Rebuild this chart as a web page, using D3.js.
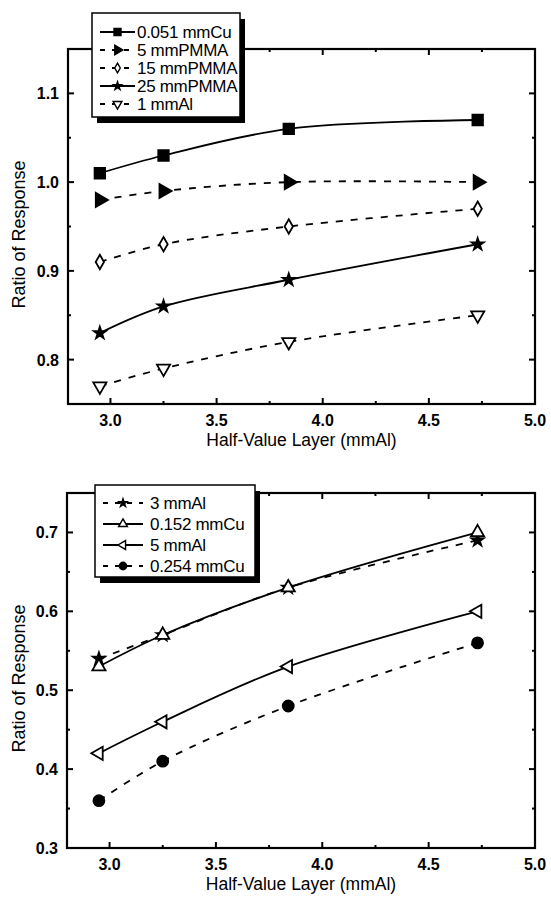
<!DOCTYPE html>
<html>
<head>
<meta charset="utf-8">
<script src="https://cdn.jsdelivr.net/npm/d3@7"></script>
<style>
  body { margin: 0; background: #fff; }
  svg { display: block; }
  text { font-family: "Liberation Sans", Arial, sans-serif; fill: #000; }
</style>
</head>
<body>
<div id="chart-container"></div>
<script>
// half-value layer (x) shared by both panels
const hvl = [2.95, 3.25, 3.84, 4.73];

// top panel series
const topNames = ["0.051 mmCu", "5 mmPMMA", "15 mmPMMA", "25 mmPMMA", "1 mmAl"];
const cu051 = [1.01, 1.03, 1.06, 1.07];
const pmma5 = [0.98, 0.99, 1.00, 1.00];
const pmma15 = [0.91, 0.93, 0.95, 0.97];
const pmma25 = [0.83, 0.86, 0.89, 0.93];
const al1 = [0.77, 0.79, 0.82, 0.85];

// bottom panel series
const botNames = ["3 mmAl", "0.152 mmCu", "5 mmAl", "0.254 mmCu"];
const al3 = [0.54, 0.57, 0.63, 0.69];
const cu152 = [0.53, 0.57, 0.63, 0.70];
const al5 = [0.42, 0.46, 0.53, 0.60];
const cu254 = [0.36, 0.41, 0.48, 0.56];

const xTicks = [3.0, 3.5, 4.0, 4.5, 5.0];
const topYTicks = [0.8, 0.9, 1.0, 1.1];
const botYTicks = [0.3, 0.4, 0.5, 0.6, 0.7];

const svg = d3.select("#chart-container")
  .append("svg")
    .attr("width", 551)
    .attr("height", 900);

function drawPanel(cfg) {
  const g = svg.append("g");
  const x = d3.scaleLinear().domain([2.8, 5.0]).range([cfg.left, cfg.right]);
  const y = d3.scaleLinear().domain(cfg.yDomain).range([cfg.bottom, cfg.top]);

  // frame
  g.append("rect")
    .attr("x", cfg.left).attr("y", cfg.top)
    .attr("width", cfg.right - cfg.left).attr("height", cfg.bottom - cfg.top)
    .attr("fill", "none").attr("stroke", "#000").attr("stroke-width", 2.2);

  // ticks pointing inward on all four sides
  const xMinor = d3.range(3.0, 5.01, 0.25);
  const yMinor = d3.range(cfg.yDomain[0], cfg.yDomain[1] + 0.001, 0.05).map(v => +v.toFixed(2));
  xMinor.forEach(v => {
    const len = xTicks.some(t => Math.abs(t - v) < 1e-6) ? 6 : 3;
    g.append("line").attr("x1", x(v)).attr("x2", x(v))
      .attr("y1", cfg.bottom).attr("y2", cfg.bottom - len).attr("stroke", "#000").attr("stroke-width", 2);
    g.append("line").attr("x1", x(v)).attr("x2", x(v))
      .attr("y1", cfg.top).attr("y2", cfg.top + len).attr("stroke", "#000").attr("stroke-width", 2);
  });
  yMinor.forEach(v => {
    const len = cfg.yTicks.some(t => Math.abs(t - v) < 1e-6) ? 6 : 3;
    g.append("line").attr("x1", cfg.left).attr("x2", cfg.left + len)
      .attr("y1", y(v)).attr("y2", y(v)).attr("stroke", "#000").attr("stroke-width", 2);
    g.append("line").attr("x1", cfg.right).attr("x2", cfg.right - len)
      .attr("y1", y(v)).attr("y2", y(v)).attr("stroke", "#000").attr("stroke-width", 2);
  });

  // tick labels
  g.selectAll(".xl").data(xTicks).join("text")
    .attr("x", d => x(d)).attr("y", cfg.bottom + 22)
    .attr("text-anchor", "middle").attr("font-size", 16).attr("font-weight", "bold")
    .text(d => d.toFixed(1));
  g.selectAll(".yl").data(cfg.yTicks).join("text")
    .attr("x", cfg.left - 9).attr("y", d => y(d) + 6)
    .attr("text-anchor", "end").attr("font-size", 16).attr("font-weight", "bold")
    .text(d => d.toFixed(1));

  // axis titles
  g.append("text")
    .attr("x", (cfg.left + cfg.right) / 2).attr("y", cfg.bottom + 42)
    .attr("text-anchor", "middle").attr("font-size", 17.5)
    .text("Half-Value Layer (mmAl)");
  g.append("text")
    .attr("transform", `translate(25,${(cfg.top + cfg.bottom) / 2 + 8}) rotate(-90)`)
    .attr("text-anchor", "middle").attr("font-size", 18)
    .text("Ratio of Response");

  // curves
  const line = d3.line()
    .x((d, i) => x(hvl[i]))
    .y(d => y(d))
    .curve(d3.curveCatmullRom.alpha(0.5));

  cfg.series.forEach(s => {
    g.append("path")
      .datum(s.values)
      .attr("fill", "none").attr("stroke", "#000").attr("stroke-width", 1.8)
      .attr("stroke-dasharray", s.dash ? "7,8" : null)
      .attr("d", line);
  });

  cfg.series.forEach(s => {
    g.selectAll(null).data(s.values).join("path")
      .attr("transform", (d, i) => `translate(${x(hvl[i])},${y(d)}) rotate(${s.rot || 0})`)
      .attr("d", d3.symbol().type(s.sym).size(s.size || 75))
      .attr("fill", s.filled ? "#000" : "#fff")
      .attr("stroke", "#000").attr("stroke-width", 1.8);
  });

  // legend with drop shadow
  const L = cfg.legend;
  g.append("rect").attr("x", L.x + 5).attr("y", L.y + 6).attr("width", L.w).attr("height", L.h).attr("fill", "#000");
  g.append("rect").attr("x", L.x).attr("y", L.y).attr("width", L.w).attr("height", L.h)
    .attr("fill", "#fff").attr("stroke", "#000").attr("stroke-width", 1.5);
  cfg.series.forEach((s, i) => {
    const ly = L.y + L.first + i * L.step;
    g.append("line").attr("x1", L.lineX[0]).attr("x2", L.lineX[1]).attr("y1", ly).attr("y2", ly)
      .attr("stroke", "#000").attr("stroke-width", 2.2)
      .attr("stroke-dasharray", s.dash ? "5,7" : null);
    g.append("path")
      .attr("transform", `translate(${(L.lineX[0] + L.lineX[1]) / 2},${ly}) rotate(${s.rot || 0})`)
      .attr("d", d3.symbol().type(s.sym).size((s.size || 75) * 0.45))
      .attr("fill", s.filled ? "#000" : "#fff")
      .attr("stroke", "#000").attr("stroke-width", 1.4);
    g.append("text").attr("x", L.textX).attr("y", ly + 6)
      .attr("font-size", 17).attr("letter-spacing", -0.3).text(s.name);
  });
}

drawPanel({
  left: 68, right: 535, top: 49, bottom: 404,
  yDomain: [0.75, 1.15], yTicks: topYTicks,
  series: [
    { name: topNames[0], values: cu051, sym: d3.symbolSquare, filled: true, dash: false, size: 110 },
    { name: topNames[1], values: pmma5, sym: d3.symbolTriangle, rot: 90, filled: true, dash: true, size: 85 },
    { name: topNames[2], values: pmma15, sym: d3.symbolDiamond, filled: false, dash: true, size: 60 },
    { name: topNames[3], values: pmma25, sym: d3.symbolStar, filled: true, dash: false, size: 45 },
    { name: topNames[4], values: al1, sym: d3.symbolTriangle, rot: 180, filled: false, dash: true, size: 75 }
  ],
  legend: { x: 92, y: 13, w: 148, h: 104, first: 19, step: 18, lineX: [100, 135], textX: 137 }
});

drawPanel({
  left: 67, right: 535, top: 493, bottom: 848,
  yDomain: [0.3, 0.75], yTicks: botYTicks,
  series: [
    { name: botNames[0], values: al3, sym: d3.symbolStar, filled: true, dash: true, size: 45 },
    { name: botNames[1], values: cu152, sym: d3.symbolTriangle, filled: false, dash: false, size: 75 },
    { name: botNames[2], values: al5, sym: d3.symbolTriangle, rot: -90, filled: false, dash: false, size: 75 },
    { name: botNames[3], values: cu254, sym: d3.symbolCircle, filled: true, dash: true, size: 95 }
  ],
  legend: { x: 95, y: 485, w: 160, h: 92, first: 18, step: 21, lineX: [103, 143], textX: 150 }
});
</script>
</body>
</html>
